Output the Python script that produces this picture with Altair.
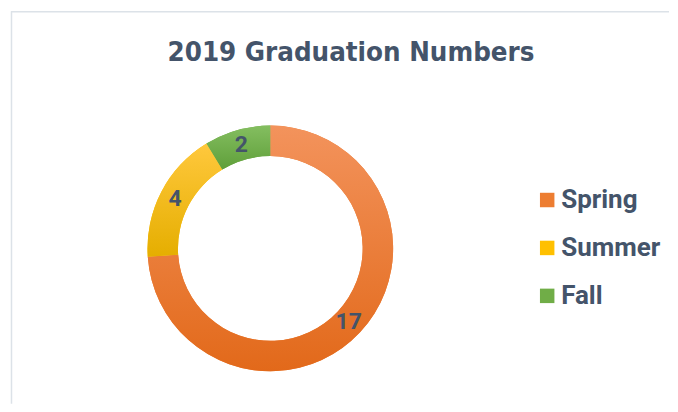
import altair as alt
import pandas as pd

seasons = ["Spring", "Summer", "Fall"]
counts = [17, 4, 2]
order_idx = [0, 1, 2]
solid_colors = ["#ED7D31", "#FFC000", "#70AD47"]
grad_top = ["#F3935C", "#FFC83D", "#84BE60"]
grad_bottom = ["#E2691A", "#E5AE00", "#5F9F3A"]
title_text = "2019 Graduation Numbers"

TEXT = "#44546A"
W, H = 662, 396
CX, CY = 262.7, 240.5

df = pd.DataFrame({"Season": seasons, "Count": counts, "idx": order_idx})

base = alt.Chart(df).transform_window(
    cum="sum(Count)", sort=[alt.SortField("idx")], frame=[None, 0]
).transform_joinaggregate(total="sum(Count)").transform_calculate(
    start="(datum.cum - datum.Count) / datum.total",
    end="datum.cum / datum.total",
    mid="(datum.cum - datum.Count / 2) / datum.total",
)

theta_scale = alt.Scale(domain=[0, 1], zero=True, nice=False)

solid = base.mark_arc(innerRadius=92.5, outerRadius=123).encode(
    theta=alt.Theta("start:Q", scale=theta_scale),
    theta2="end:Q",
    x=alt.value(CX),
    y=alt.value(CY),
    color=alt.Color(
        "Season:N",
        scale=alt.Scale(domain=seasons, range=solid_colors),
        sort=seasons,
        legend=alt.Legend(
            title=None,
            orient="none",
            legendX=527,
            legendY=179,
            padding=0,
            symbolType="square",
            symbolSize=210,
            symbolStrokeWidth=0,
            labelFont="Roboto",
            labelFontWeight="bold",
            labelFontSize=26,
            labelColor=TEXT,
            labelOffset=1,
            rowPadding=22,
        ),
    ),
)

layers = [solid]
for s, top, bot in zip(seasons, grad_top, grad_bottom):
    g = alt.LinearGradient(
        gradient="linear",
        stops=[alt.GradientStop(offset=0, color=top), alt.GradientStop(offset=1, color=bot)],
        x1=0, x2=0, y1=0, y2=1,
    )
    layers.append(
        base.transform_filter(alt.datum.Season == s)
        .mark_arc(innerRadius=92.5, outerRadius=123, color=g)
        .encode(
            theta=alt.Theta("start:Q", scale=theta_scale),
            theta2="end:Q",
            x=alt.value(CX),
            y=alt.value(CY),
        )
    )

labels = base.mark_text(
    font="Roboto", fontWeight="bold", fontSize=23, color=TEXT, baseline="middle", align="center"
).encode(
    theta=alt.Theta("mid:Q", scale=theta_scale),
    radius=alt.value(107.5),
    x=alt.value(CX),
    y=alt.value(CY),
    text="Count:Q",
)
layers.append(labels)

title = alt.Chart(pd.DataFrame({"t": [title_text]})).mark_text(
    font="DejaVu Sans Condensed, Roboto",
    fontWeight="bold",
    fontSize=27.5,
    color=TEXT,
    align="center",
    baseline="alphabetic",
).encode(x=alt.value(343.5), y=alt.value(53), text="t:N")

border_h = alt.Chart(pd.DataFrame({"a": [0]})).mark_rule(color="#DCE2E8", strokeWidth=1.5).encode(
    x=alt.value(3), x2=alt.value(W), y=alt.value(3.5)
)
border_v = alt.Chart(pd.DataFrame({"a": [0]})).mark_rule(color="#DCE2E8", strokeWidth=1.5).encode(
    x=alt.value(3.5), y=alt.value(3), y2=alt.value(H)
)

chart = alt.layer(border_h, border_v, title, *layers).properties(
    width=W, height=H, padding=0
).configure_view(stroke=None)

chart.save("out.html", embed_options={"renderer": "svg", "actions": False})
